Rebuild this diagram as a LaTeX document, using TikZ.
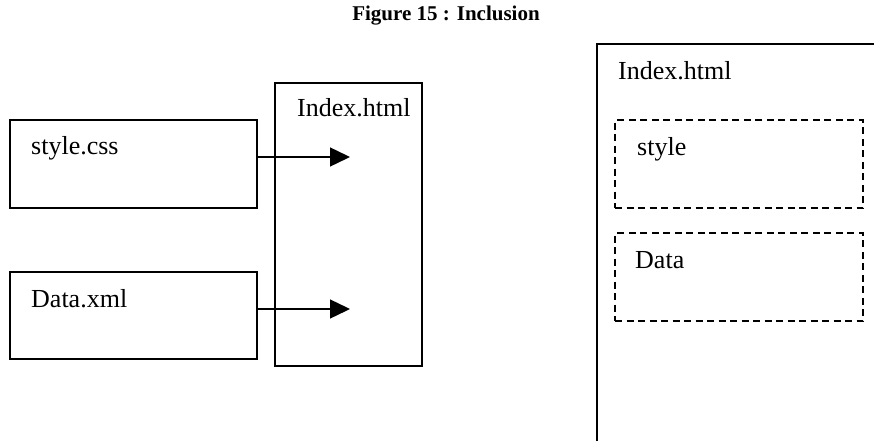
\documentclass[tikz,border=0pt]{standalone}
\usepackage{fontspec}
\setmainfont{Liberation Serif}
\usetikzlibrary{arrows.meta}
\tikzset{
  box/.style={draw=black, line width=1.4pt, inner sep=0pt, outer sep=0pt, anchor=north west},
  dashbox/.style={box, line width=1.8pt, dash pattern=on 7pt off 4.5pt},
  lbl/.style={anchor=base west, inner sep=0pt, font=\fontsize{26}{30}\selectfont},
  flow/.style={line width=1.4pt, -{Triangle[length=20pt,width=19pt]}}
}
\begin{document}
\begin{tikzpicture}[x=1pt,y=-1pt]
  \useasboundingbox (0,0) rectangle (874,441);
  \clip (0,0) rectangle (874,441);
  % title
  \node[anchor=base, inner sep=0pt, font=\fontsize{21}{25}\selectfont\bfseries] (title) at (446,21) {Figure 15 : Inclusion};
  % separate files
  \node[box, minimum width=247pt, minimum height=88pt] (css) at (10,120) {};
  \node[lbl] (csst) at (31,154) {style.css};
  \node[box, minimum width=247pt, minimum height=87pt] (xml) at (10,272) {};
  \node[lbl] (xmlt) at (31,307) {Data.xml};
  \node[box, minimum width=147pt, minimum height=283pt] (idx) at (275,83) {};
  \node[lbl] (idxt) at (297,117) {Index.html};
  % inclusion arrows
  \coordinate (t1) at (350,157);
  \coordinate (t2) at (350,309);
  \draw[flow] (css.east |- t1) -- (t1);
  \draw[flow] (xml.east |- t2) -- (t2);
  % resulting page with included parts
  \node[box, line width=1.8pt, minimum width=320pt, minimum height=440pt] (page) at (597,44) {};
  \node[lbl] (paget) at (618,80) {Index.html};
  \node[dashbox, minimum width=248pt, minimum height=88pt] (sty) at (615,120) {};
  \node[lbl] (styt) at (637,155) {style};
  \node[dashbox, minimum width=248pt, minimum height=88pt] (dat) at (615,233) {};
  \node[lbl] (datt) at (635,268) {Data};
\end{tikzpicture}
\end{document}
